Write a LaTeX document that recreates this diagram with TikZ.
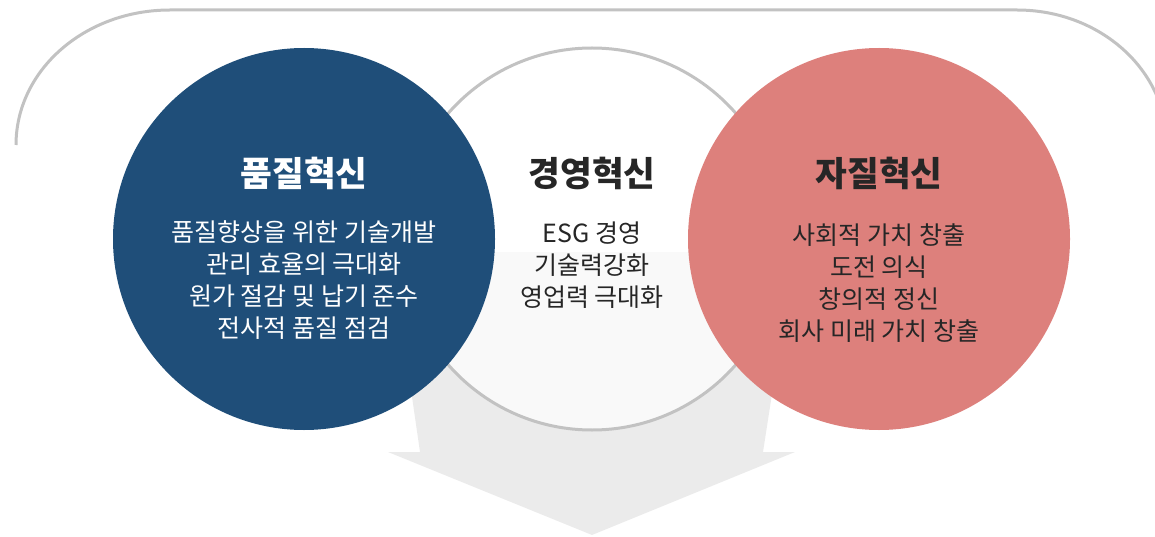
\documentclass[tikz,border=0pt]{standalone}
\usepackage{fontspec}
\newfontfamily\kr{Noto Sans CJK KR}
\usetikzlibrary{positioning}
\definecolor{qblue}{RGB}{31,78,121}
\definecolor{jpink}{RGB}{221,128,124}
\definecolor{ink}{RGB}{38,38,38}
\definecolor{rim}{RGB}{194,194,194}
\definecolor{flow}{RGB}{235,235,235}

\begin{document}
\begin{tikzpicture}[x=1pt, y=-1pt,
every node/.style={inner sep=0pt, font=\kr},
ring/.style={circle, minimum size=382pt},
ttl/.style={font=\kr\bfseries\fontsize{34.5}{36}\selectfont},
txt/.style={align=center, font=\kr\fontsize{25}{32}\selectfont}
]
\useasboundingbox (0,0) rectangle (1155,537);

% frame and flow
\draw[rim, line width=3pt] (16,145) .. controls (16,70) and (85,10) .. (170,10)
  -- (1017,10) .. controls (1100,10) and (1167,70) .. (1167,145);
\fill[flow] (391,252) -- (794,252) -- (763,452) -- (795,452) -- (592,535)
  -- (388,452) -- (420,452) -- cycle;

\node[ring, draw=rim, line width=3pt, fill=white, fill opacity=0.75] (g) at (592,239) {};
\node[ring, fill=qblue] (q) at (304,239) {};
\node[ring, fill=jpink] (j) at (879,239) {};

\foreach \n/\x/\col/\t in {q/304/white/품질혁신, g/592/ink/경영혁신, j/879/ink/자질혁신}
  \node[ttl, text=\col] (\n-ttl) at (\x,173) {\t};

\node[txt, text=white] (q-txt) at (304,280)
  {품질향상을 위한 기술개발\\관리 효율의 극대화\\원가 절감 및 납기 준수\\전사적 품질 점검};
\node[txt, text=ink] (g-txt) at (592,265)
  {ESG 경영\\기술력강화\\영업력 극대화};
\node[txt, text=ink] (j-txt) at (879,283)
  {사회적 가치 창출\\도전 의식\\창의적 정신\\회사 미래 가치 창출};

\end{tikzpicture}
\end{document}
